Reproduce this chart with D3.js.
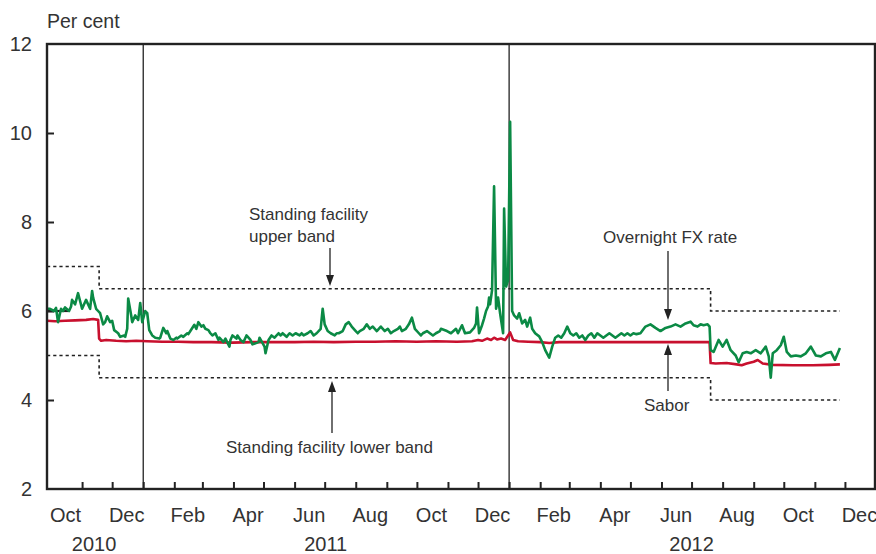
<!DOCTYPE html>
<html>
<head>
<meta charset="utf-8">
<script src="https://cdn.jsdelivr.net/npm/d3@7"></script>
<style>
  html, body { margin: 0; padding: 0; background: #fff; }
  svg { display: block; font-family: "Liberation Sans", Arial, sans-serif; }
</style>
</head>
<body>
<svg id="chart" width="876" height="554"></svg>
<script>
// Overnight FX rate (per cent)
const fxRate = [
  ["2010-09-27",6.05],["2010-09-30",6.05],["2010-10-04",6.0],["2010-10-06",6.07],["2010-10-08",5.75],
  ["2010-10-11",6.05],["2010-10-13",6.0],["2010-10-15",6.08],["2010-10-19",6.0],["2010-10-21",6.1],
  ["2010-10-22",6.25],["2010-10-25",6.15],["2010-10-28",6.4],["2010-11-01",6.05],["2010-11-03",6.15],
  ["2010-11-05",6.25],["2010-11-09",6.05],["2010-11-11",6.45],["2010-11-12",6.3],["2010-11-15",6.05],
  ["2010-11-17",6.0],["2010-11-19",5.95],["2010-11-22",5.7],["2010-11-24",5.75],["2010-11-26",5.88],
  ["2010-11-29",5.75],["2010-12-01",5.78],["2010-12-03",5.57],["2010-12-07",5.5],["2010-12-09",5.42],
  ["2010-12-13",5.45],["2010-12-14",5.42],["2010-12-16",5.6],["2010-12-17",6.28],["2010-12-20",5.9],
  ["2010-12-21",5.75],["2010-12-24",5.9],["2010-12-27",5.8],["2010-12-29",6.18],["2010-12-31",5.75],
  ["2011-01-03",6.0],["2011-01-05",5.95],["2011-01-07",5.57],["2011-01-10",5.45],["2011-01-13",5.4],
  ["2011-01-17",5.38],["2011-01-18",5.4],["2011-01-21",5.62],["2011-01-24",5.5],["2011-01-25",5.55],
  ["2011-01-28",5.38],["2011-01-31",5.35],["2011-02-03",5.4],["2011-02-04",5.38],["2011-02-08",5.45],
  ["2011-02-10",5.42],["2011-02-14",5.5],["2011-02-15",5.48],["2011-02-17",5.55],["2011-02-21",5.69],
  ["2011-02-23",5.6],["2011-02-25",5.75],["2011-02-28",5.65],["2011-03-02",5.68],["2011-03-04",5.6],
  ["2011-03-07",5.57],["2011-03-09",5.5],["2011-03-11",5.45],["2011-03-14",5.5],["2011-03-17",5.35],
  ["2011-03-18",5.4],["2011-03-22",5.3],["2011-03-24",5.38],["2011-03-28",5.2],["2011-03-29",5.35],
  ["2011-03-31",5.45],["2011-04-04",5.38],["2011-04-05",5.45],["2011-04-08",5.35],["2011-04-11",5.3],
  ["2011-04-14",5.45],["2011-04-18",5.35],["2011-04-20",5.25],["2011-04-26",5.3],["2011-04-27",5.4],
  ["2011-05-02",5.2],["2011-05-03",5.05],["2011-05-06",5.35],["2011-05-09",5.45],["2011-05-12",5.4],
  ["2011-05-16",5.5],["2011-05-18",5.45],["2011-05-20",5.5],["2011-05-24",5.42],["2011-05-27",5.5],
  ["2011-05-30",5.45],["2011-06-02",5.5],["2011-06-06",5.45],["2011-06-08",5.5],["2011-06-10",5.45],
  ["2011-06-14",5.5],["2011-06-17",5.55],["2011-06-20",5.45],["2011-06-23",5.5],["2011-06-27",5.6],
  ["2011-06-29",6.05],["2011-07-01",5.7],["2011-07-04",5.55],["2011-07-07",5.5],["2011-07-11",5.45],
  ["2011-07-13",5.5],["2011-07-15",5.5],["2011-07-19",5.55],["2011-07-22",5.7],["2011-07-25",5.75],
  ["2011-07-28",5.65],["2011-08-01",5.55],["2011-08-03",5.5],["2011-08-05",5.55],["2011-08-09",5.6],
  ["2011-08-12",5.7],["2011-08-15",5.6],["2011-08-18",5.65],["2011-08-22",5.55],["2011-08-24",5.6],
  ["2011-08-26",5.65],["2011-08-30",5.55],["2011-09-02",5.6],["2011-09-05",5.5],["2011-09-08",5.55],
  ["2011-09-12",5.6],["2011-09-14",5.65],["2011-09-16",5.55],["2011-09-20",5.6],["2011-09-23",5.7],
  ["2011-09-26",5.85],["2011-09-29",5.6],["2011-10-03",5.5],["2011-10-05",5.45],["2011-10-07",5.5],
  ["2011-10-11",5.55],["2011-10-14",5.5],["2011-10-17",5.45],["2011-10-20",5.5],["2011-10-24",5.55],
  ["2011-10-25",5.6],["2011-10-31",5.55],["2011-11-04",5.5],["2011-11-09",5.6],["2011-11-11",5.5],
  ["2011-11-15",5.68],["2011-11-18",5.5],["2011-11-23",5.52],["2011-11-27",5.62],["2011-11-29",5.72],
  ["2011-11-30",6.08],["2011-12-02",5.5],["2011-12-05",5.68],["2011-12-07",5.83],["2011-12-09",6.0],
  ["2011-12-11",6.1],["2011-12-12",6.3],["2011-12-13",6.15],["2011-12-15",6.47],["2011-12-17",8.8],
  ["2011-12-19",6.05],["2011-12-21",6.3],["2011-12-23",5.95],["2011-12-26",5.5],["2011-12-27",8.3],
  ["2011-12-29",6.55],["2011-12-31",6.7],["2012-01-02",10.25],["2012-01-04",6.0],["2012-01-06",5.9],
  ["2012-01-09",5.83],["2012-01-11",5.95],["2012-01-14",5.72],["2012-01-17",5.8],["2012-01-19",5.65],
  ["2012-01-22",5.85],["2012-01-24",5.6],["2012-01-27",5.5],["2012-01-31",5.43],["2012-02-03",5.3],
  ["2012-02-06",5.12],["2012-02-10",4.95],["2012-02-13",5.2],["2012-02-16",5.4],["2012-02-19",5.45],
  ["2012-02-22",5.4],["2012-02-25",5.5],["2012-02-28",5.65],["2012-03-02",5.5],["2012-03-05",5.45],
  ["2012-03-08",5.5],["2012-03-11",5.4],["2012-03-14",5.45],["2012-03-17",5.35],["2012-03-20",5.45],
  ["2012-03-23",5.5],["2012-03-26",5.4],["2012-03-29",5.5],["2012-04-01",5.45],["2012-04-04",5.4],
  ["2012-04-07",5.45],["2012-04-10",5.5],["2012-04-13",5.45],["2012-04-16",5.4],["2012-04-19",5.45],
  ["2012-04-22",5.5],["2012-04-25",5.45],["2012-04-28",5.5],["2012-05-01",5.45],["2012-05-04",5.5],
  ["2012-05-07",5.48],["2012-05-11",5.5],["2012-05-16",5.65],["2012-05-21",5.7],["2012-05-26",5.62],
  ["2012-05-31",5.55],["2012-06-05",5.62],["2012-06-10",5.65],["2012-06-15",5.7],["2012-06-20",5.65],
  ["2012-06-25",5.72],["2012-06-30",5.76],["2012-07-03",5.68],["2012-07-07",5.65],["2012-07-10",5.7],
  ["2012-07-13",5.68],["2012-07-17",5.7],["2012-07-19",5.65],["2012-07-20",5.12],["2012-07-23",5.08],
  ["2012-07-28",5.35],["2012-08-01",5.2],["2012-08-05",5.35],["2012-08-09",5.12],["2012-08-14",5.0],
  ["2012-08-17",4.85],["2012-08-21",5.05],["2012-08-25",5.08],["2012-08-29",5.05],["2012-09-03",5.12],
  ["2012-09-08",5.05],["2012-09-13",5.2],["2012-09-16",4.98],["2012-09-18",4.5],["2012-09-20",5.05],
  ["2012-09-24",5.12],["2012-09-28",5.23],["2012-10-01",5.42],["2012-10-04",5.08],["2012-10-08",4.98],
  ["2012-10-13",5.0],["2012-10-18",4.98],["2012-10-23",5.05],["2012-10-28",5.2],["2012-11-02",5.0],
  ["2012-11-07",4.98],["2012-11-12",5.05],["2012-11-17",5.08],["2012-11-21",4.9],["2012-11-26",5.17]
];

// South African benchmark overnight rate (Sabor, per cent)
const sabor = [
  ["2010-09-27",5.78],["2010-10-05",5.77],["2010-10-15",5.78],["2010-10-25",5.79],["2010-11-05",5.8],
  ["2010-11-12",5.82],["2010-11-17",5.8],["2010-11-18",5.38],["2010-11-20",5.33],["2010-11-25",5.35],
  ["2010-12-05",5.33],["2010-12-15",5.32],["2010-12-25",5.33],["2011-01-05",5.32],["2011-01-20",5.31],
  ["2011-02-05",5.31],["2011-02-20",5.3],["2011-03-10",5.3],["2011-03-31",5.29],["2011-04-20",5.3],
  ["2011-05-10",5.3],["2011-06-01",5.3],["2011-06-20",5.31],["2011-07-10",5.3],["2011-08-01",5.31],
  ["2011-08-20",5.31],["2011-09-10",5.32],["2011-10-01",5.31],["2011-10-20",5.32],["2011-11-10",5.31],
  ["2011-11-25",5.32],["2011-12-01",5.35],["2011-12-05",5.33],["2011-12-10",5.38],["2011-12-14",5.35],
  ["2011-12-17",5.4],["2011-12-20",5.36],["2011-12-24",5.38],["2011-12-28",5.35],["2012-01-02",5.52],
  ["2012-01-05",5.35],["2012-01-10",5.32],["2012-01-20",5.31],["2012-02-01",5.3],["2012-02-10",5.28],
  ["2012-02-20",5.3],["2012-03-10",5.3],["2012-04-10",5.3],["2012-05-10",5.3],["2012-06-10",5.3],
  ["2012-07-19",5.3],["2012-07-20",4.83],["2012-07-25",4.82],["2012-08-05",4.83],["2012-08-15",4.8],
  ["2012-08-20",4.78],["2012-08-25",4.82],["2012-09-01",4.86],["2012-09-05",4.9],["2012-09-10",4.82],
  ["2012-09-20",4.79],["2012-10-10",4.78],["2012-10-30",4.78],["2012-11-15",4.79],["2012-11-26",4.8]
];

// Repo rate segment shown at the start of the period
const repoRate = [["2010-09-27",6.0],["2010-10-18",6.0]];

// Standing facility bands (step changes at each repo cut)
const bandDates = ["2010-09-27","2010-11-18","2012-07-20","2012-11-26"];
const upperBand = [7.0, 6.5, 6.0, 6.0];
const lowerBand = [5.0, 4.5, 4.0, 4.0];

// Axis labels
const yTickValues = [2, 4, 6, 8, 10, 12];
const monthLabels = [
  ["2010-10-15","Oct"],["2010-12-15","Dec"],["2011-02-14","Feb"],["2011-04-15","Apr"],
  ["2011-06-15","Jun"],["2011-08-15","Aug"],["2011-10-15","Oct"],["2011-12-15","Dec"],
  ["2012-02-14","Feb"],["2012-04-15","Apr"],["2012-06-15","Jun"],["2012-08-15","Aug"],
  ["2012-10-15","Oct"],["2012-12-15","Dec"]
];
const yearLabels = [["2010-11-13","2010"],["2011-07-02","2011"],["2012-07-01","2012"]];
const yearBreaks = ["2011-01-01","2012-01-01"];

const parse = d3.timeParse("%Y-%m-%d");
const svg = d3.select("#chart");
const plotLeft = 47, plotRight = 875, plotTop = 44, plotBottom = 489;

const x = d3.scaleTime()
  .domain([parse("2010-09-27"), parse("2012-12-31")])
  .range([plotLeft, plotRight]);
const y = d3.scaleLinear().domain([2, 12]).range([plotBottom, plotTop]);

const textColor = "#333";
const tickFont = 20;

// Month tick marks (inward)
const monthStarts = d3.timeMonth.range(parse("2010-11-01"), parse("2012-12-02"));
const xTicks = svg.append("g")
  .attr("transform", `translate(0,${plotBottom})`)
  .call(d3.axisBottom(x).tickValues(monthStarts).tickSize(-7).tickFormat(""));
xTicks.select(".domain").remove();
xTicks.selectAll("line").attr("stroke", "#222").attr("stroke-width", 2);

// Month labels
const xLab = svg.append("g")
  .attr("transform", `translate(0,${plotBottom})`)
  .call(d3.axisBottom(x)
    .tickValues(monthLabels.map(d => parse(d[0])))
    .tickFormat((d, i) => monthLabels[i][1])
    .tickSize(0).tickPadding(19));
xLab.select(".domain").remove();
xLab.selectAll("text").attr("font-size", tickFont).attr("fill", textColor)
  .attr("font-family", "Liberation Sans, Arial, sans-serif");

// Year labels
svg.append("g").selectAll("text").data(yearLabels).join("text")
  .attr("x", d => x(parse(d[0])))
  .attr("y", 551)
  .attr("text-anchor", "middle")
  .attr("font-size", tickFont)
  .attr("fill", textColor)
  .text(d => d[1]);

// Y tick marks (inward)
const yTicks = svg.append("g")
  .attr("transform", `translate(${plotLeft},0)`)
  .call(d3.axisLeft(y).tickValues([4, 6, 8, 10]).tickSize(-7).tickFormat(""));
yTicks.select(".domain").remove();
yTicks.selectAll("line").attr("stroke", "#222").attr("stroke-width", 2);

// Y labels
const yLab = svg.append("g")
  .attr("transform", `translate(${plotLeft},0)`)
  .call(d3.axisLeft(y).tickValues(yTickValues).tickSize(0).tickPadding(15).tickFormat(d3.format("d")));
yLab.select(".domain").remove();
yLab.selectAll("text").attr("font-size", tickFont).attr("fill", textColor)
  .attr("font-family", "Liberation Sans, Arial, sans-serif");

// Unit label
svg.append("text").attr("x", plotLeft).attr("y", 28)
  .attr("font-size", 19.5).attr("fill", textColor).text("Per cent");

// Year separators
svg.append("g").selectAll("line").data(yearBreaks).join("line")
  .attr("x1", d => x(parse(d))).attr("x2", d => x(parse(d)))
  .attr("y1", plotTop).attr("y2", plotBottom)
  .attr("stroke", "#222").attr("stroke-width", 1.3);

// Standing facility bands
const bandLine = d3.line()
  .x(d => x(d[0])).y(d => y(d[1]))
  .curve(d3.curveStepAfter);
[upperBand, lowerBand].forEach(vals => {
  svg.append("path")
    .datum(bandDates.map((d, i) => [parse(d), vals[i]]))
    .attr("d", bandLine)
    .attr("fill", "none")
    .attr("stroke", "#222")
    .attr("stroke-width", 1.6)
    .attr("stroke-dasharray", "3.2,3");
});

const seriesLine = d3.line().x(d => x(parse(d[0]))).y(d => y(d[1]));

// Repo rate
svg.append("path").datum(repoRate).attr("d", seriesLine)
  .attr("fill", "none").attr("stroke", "#222").attr("stroke-width", 2.2);

// Sabor
svg.append("path").datum(sabor).attr("d", seriesLine)
  .attr("fill", "none").attr("stroke", "#c8102e").attr("stroke-width", 2.6)
  .attr("stroke-linejoin", "round");

// Overnight FX rate
svg.append("path").datum(fxRate).attr("d", seriesLine)
  .attr("fill", "none").attr("stroke", "#0b8a45").attr("stroke-width", 2.6)
  .attr("stroke-linejoin", "round");

// Frame
svg.append("rect")
  .attr("x", plotLeft).attr("y", plotTop)
  .attr("width", plotRight - plotLeft).attr("height", plotBottom - plotTop)
  .attr("fill", "none").attr("stroke", "#222").attr("stroke-width", 2.4);

// Annotations with arrows
function arrow(x0, y0, y1) {
  const dir = y1 > y0 ? 1 : -1;
  svg.append("line")
    .attr("x1", x0).attr("x2", x0).attr("y1", y0).attr("y2", y1 - dir * 8)
    .attr("stroke", "#222").attr("stroke-width", 1.3);
  svg.append("path")
    .attr("d", `M${x0 - 4},${y1 - dir * 11}L${x0 + 4},${y1 - dir * 11}L${x0},${y1}Z`)
    .attr("fill", "#222");
}

const note = svg.append("g").attr("font-size", 17).attr("fill", textColor);
note.append("text").attr("x", 249).attr("y", 220).text("Standing facility");
note.append("text").attr("x", 249).attr("y", 242).text("upper band");
arrow(330, 248, 286);

note.append("text").attr("x", 603).attr("y", 243).text("Overnight FX rate");
arrow(668, 251, 320);

note.append("text").attr("x", 644).attr("y", 411).text("Sabor");
arrow(668, 391, 344);

note.append("text").attr("x", 226).attr("y", 453).text("Standing facility lower band");
arrow(332, 433, 381);
</script>
</body>
</html>
